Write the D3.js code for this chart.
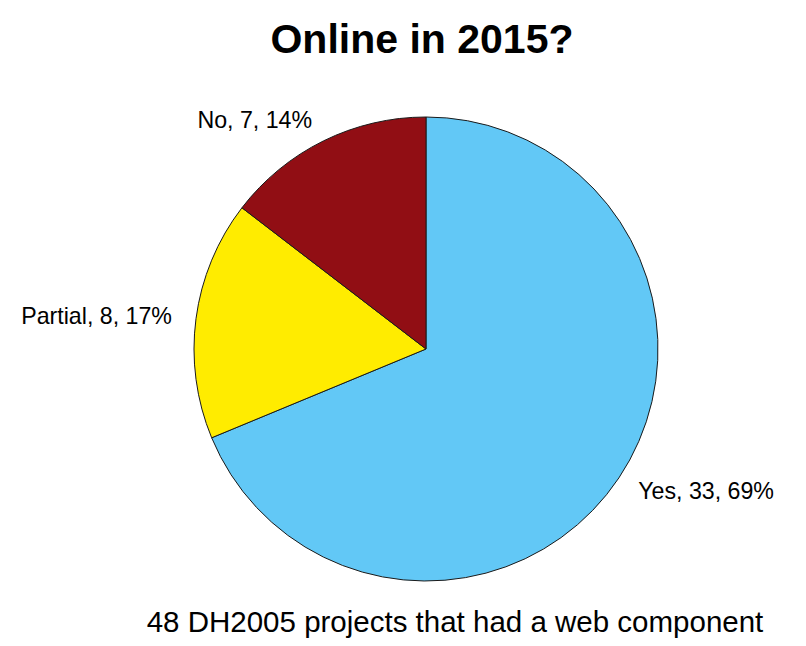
<!DOCTYPE html>
<html>
<head>
<meta charset="utf-8">
<script src="https://cdn.jsdelivr.net/npm/d3@7"></script>
<style>
  html, body { margin: 0; padding: 0; background: #fff; }
  svg { display: block; font-family: "Liberation Sans", Arial, Helvetica, sans-serif; }
</style>
</head>
<body>
<svg id="chart" width="806" height="646"></svg>
<script>
const categories = ["Yes", "Partial", "No"];
const values = [33, 8, 7];
const percents = [69, 17, 14];
const colors = ["#62c8f6", "#ffec00", "#910e14"];
const title = "Online in 2015?";
const subtitle = "48 DH2005 projects that had a web component";

const svg = d3.select("#chart");
const cx = 426, cy = 349, r = 232;

const data = categories.map((c, i) => ({ cat: c, value: values[i], pct: percents[i], color: colors[i] }));

const pie = d3.pie().sort(null).value(d => d.value);
const arc = d3.arc().innerRadius(0).outerRadius(r);
const arcs = pie(data);

const g = svg.append("g").attr("transform", `translate(${cx},${cy})`);
g.selectAll("path.slice")
  .data(arcs)
  .join("path")
  .attr("class", "slice")
  .attr("d", arc)
  .attr("fill", d => d.data.color)
  .attr("stroke", "#1a1a1a")
  .attr("stroke-width", 1);

const labelR = r * 1.1;
g.selectAll("text.lbl")
  .data(arcs)
  .join("text")
  .attr("class", "lbl")
  .each(function(d) {
    const a = (d.startAngle + d.endAngle) / 2;
    const x = labelR * Math.sin(a);
    const y = -labelR * Math.cos(a);
    d3.select(this)
      .attr("x", x < 0 ? x - 1 : x)
      .attr("y", y)
      .attr("dy", "0.36em")
      .attr("text-anchor", x < 0 ? "end" : "start");
  })
  .attr("font-size", 23.2)
  .attr("fill", "#000")
  .text(d => `${d.data.cat}, ${d.data.value}, ${d.data.pct}%`);

svg.append("text")
  .attr("x", 422)
  .attr("y", 53)
  .attr("text-anchor", "middle")
  .attr("font-size", 41)
  .attr("font-weight", "bold")
  .text(title);

svg.append("text")
  .attr("x", 455)
  .attr("y", 632)
  .attr("text-anchor", "middle")
  .attr("font-size", 29.5)
  .text(subtitle);
</script>
</body>
</html>
